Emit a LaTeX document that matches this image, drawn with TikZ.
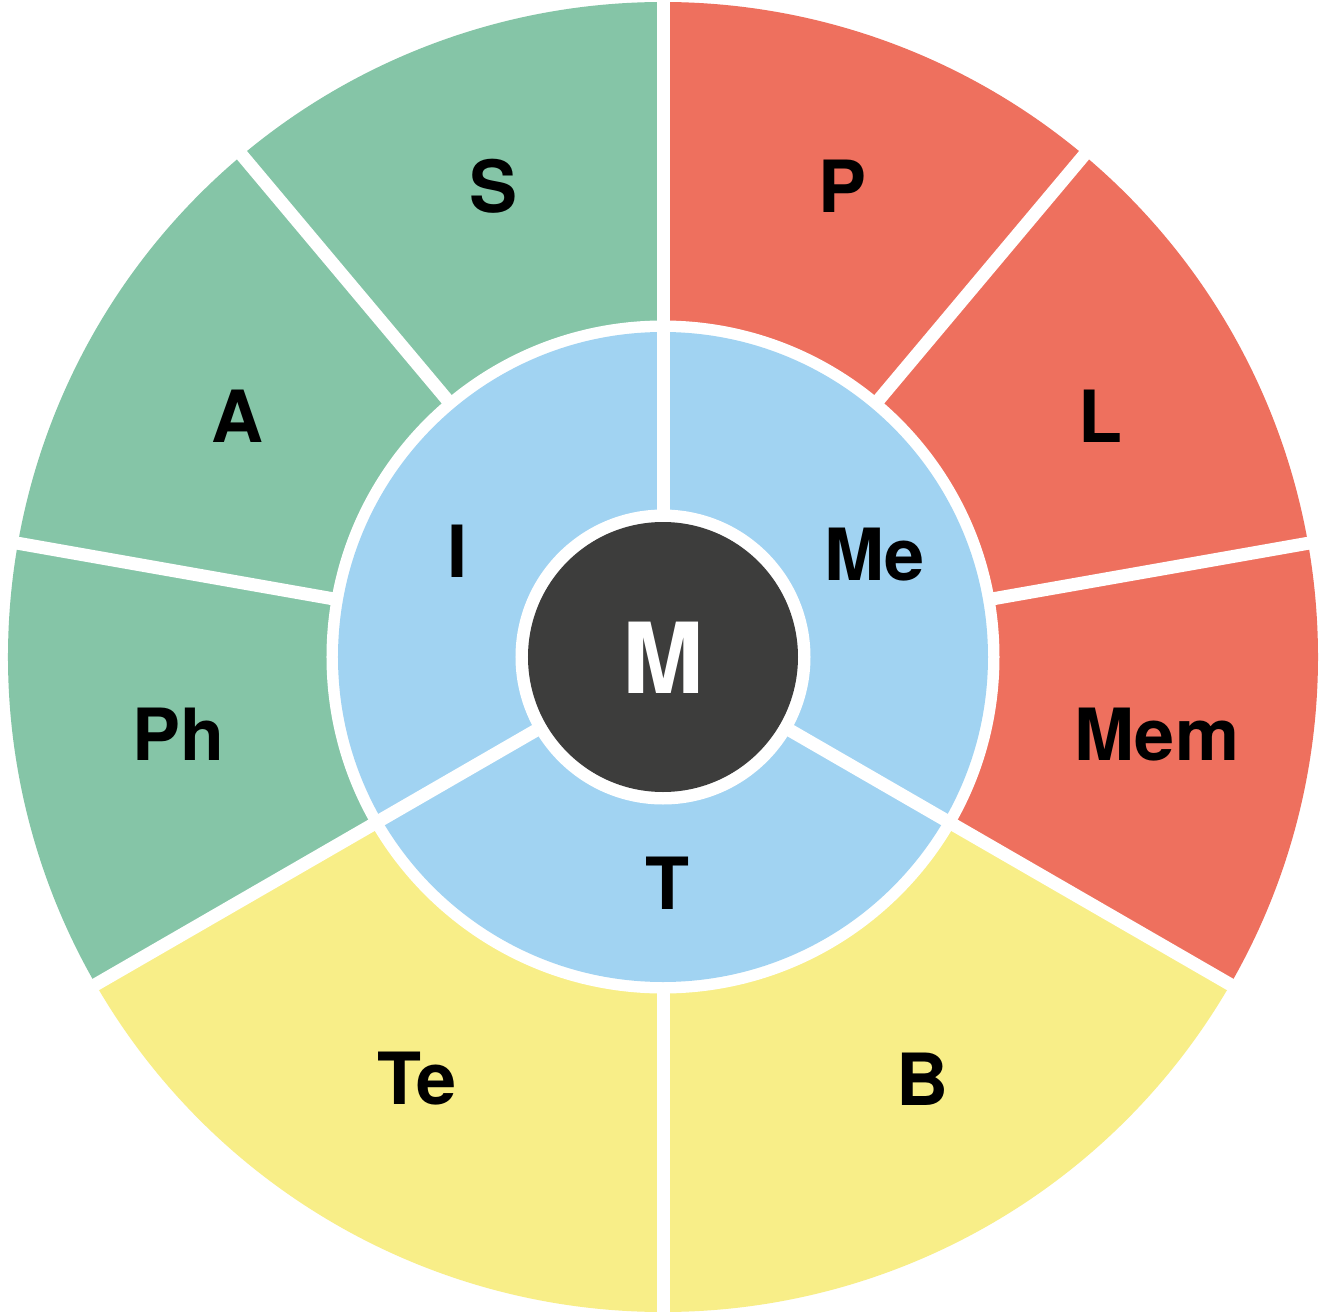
\documentclass[tikz,border=0pt]{standalone}
\usepackage{fontspec}
\setmainfont{TeX Gyre Heros}
\definecolor{cgreen}{RGB}{133,197,167}
\definecolor{cred}{RGB}{238,112,94}
\definecolor{cyellow}{RGB}{248,238,136}
\definecolor{cblue}{RGB}{161,211,242}
\definecolor{cdark}{RGB}{61,61,60}
\tikzset{
  gapline/.style={white, line width=13pt},
  lbl/.style={font=\fontsize{72}{80}\selectfont\bfseries, text height=52pt, text depth=0pt, inner sep=0pt, text=black},
  biglbl/.style={font=\fontsize{98}{110}\selectfont\bfseries, text height=71pt, text depth=0pt, inner sep=0pt, text=white},
}
\newcommand{\pieslice}[4]{\fill[#1] (0,0) -- (#2:#4) arc[start angle=#2, end angle=#3, radius=#4] -- cycle;}
\begin{document}
\begin{tikzpicture}[x=1pt,y=1pt]
\useasboundingbox[fill=white] (-663,-655) rectangle (656,657);
% outer ring
\pieslice{cred}{50}{90}{655}
\pieslice{cred}{10}{50}{655}
\pieslice{cred}{-30}{10}{655}
\pieslice{cyellow}{270}{330}{655}
\pieslice{cyellow}{210}{270}{655}
\pieslice{cgreen}{170}{210}{655}
\pieslice{cgreen}{130}{170}{655}
\pieslice{cgreen}{90}{130}{655}
% gap ring and inner ring
\fill[white] (0,0) circle[radius=336.5];
\fill[cblue] (0,0) circle[radius=325];
% radial gaps
\foreach \a in {10,50,130,170,270}{
  \draw[gapline] (\a:330) -- (\a:662);
}
\foreach \a in {90,210,330}{
  \draw[gapline] (0,0) -- (\a:662);
}
% centre
\fill[white] (0,0) circle[radius=147.5];
\fill[cdark] (0,0) circle[radius=135];
% labels
\node[lbl] (S) at (-169,470.5) {S};
\node[lbl] (P) at (180,470.5) {P};
\node[lbl] (A) at (-426,240.5) {A};
\node[lbl] (L) at (437,240.5) {L};
\node[lbl] (Ph) at (-484.5,-77.5) {Ph};
\node[lbl] (Mem) at (494,-77.5) {Mem};
\node[lbl] (Te) at (-246,-421) {Te};
\node[lbl] (B) at (259,-422.5) {B};
\node[lbl] (I) at (-205,105.5) {I};
\node[lbl] (Me) at (212,102.5) {Me};
\node[lbl] (T) at (4,-226.5) {T};
\node[biglbl] (M) at (0,-0.5) {M};
\end{tikzpicture}
\end{document}
